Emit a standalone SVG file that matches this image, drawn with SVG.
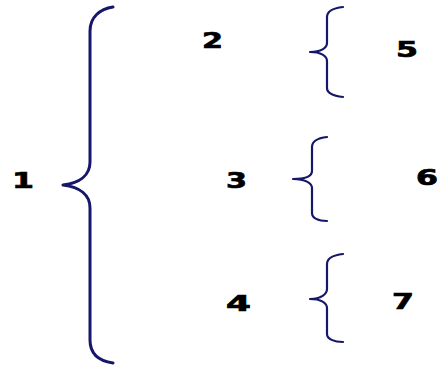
<svg xmlns="http://www.w3.org/2000/svg" width="440" height="366" viewBox="0 0 440 366">
<style>
.lbl{font-family:"DejaVu Sans","Verdana",sans-serif;font-weight:bold;font-size:21px;fill:#000;stroke:#000;stroke-width:0.7}
.br{fill:none;stroke:#16166a;stroke-linecap:round;stroke-linejoin:round}
.big{stroke-width:3}
.sm{stroke-width:2.2}
</style>
<rect width="440" height="366" fill="#fff"/>
<g id="connectors">
<path class="br big" d="M113,7 C100,9 90,17 90,31 L90,162 C90,175 80,183 63,185 C80,187 90,195 90,208 L90,340 C90,354 99,361 113,363"/>
<path class="br sm" d="M343,7 C334,8 327,11 327,17 L327,43 C327,48 321,52 310,52 C321,52 327,56 327,61 L327,88 C327,93 334,96 343,97"/>
<path class="br sm" d="M327,137 C318,138 312,141 312,147 L312,171 C312,176 305,179 293,179 C305,179 312,183 312,188 L312,213 C312,218 318,221 327,221"/>
<path class="br sm" d="M343,254 C334,255 327,258 327,264 L327,289 C327,294 321,299 310,299 C321,299 327,303 327,308 L327,334 C327,339 334,342 343,342"/>
</g>
<g id="n1"><text class="lbl" x="12" y="188" textLength="22" lengthAdjust="spacingAndGlyphs">1</text></g>
<g id="n2"><text class="lbl" x="202" y="48" textLength="21" lengthAdjust="spacingAndGlyphs">2</text></g>
<g id="n3"><text class="lbl" x="226" y="188" textLength="21" lengthAdjust="spacingAndGlyphs">3</text></g>
<g id="n4"><text class="lbl" x="226" y="311" textLength="25" lengthAdjust="spacingAndGlyphs">4</text></g>
<g id="n5"><text class="lbl" x="396" y="57" textLength="22" lengthAdjust="spacingAndGlyphs">5</text></g>
<g id="n6"><text class="lbl" x="416" y="185" textLength="22" lengthAdjust="spacingAndGlyphs">6</text></g>
<g id="n7"><text class="lbl" x="392" y="309" textLength="22" lengthAdjust="spacingAndGlyphs">7</text></g>
</svg>
